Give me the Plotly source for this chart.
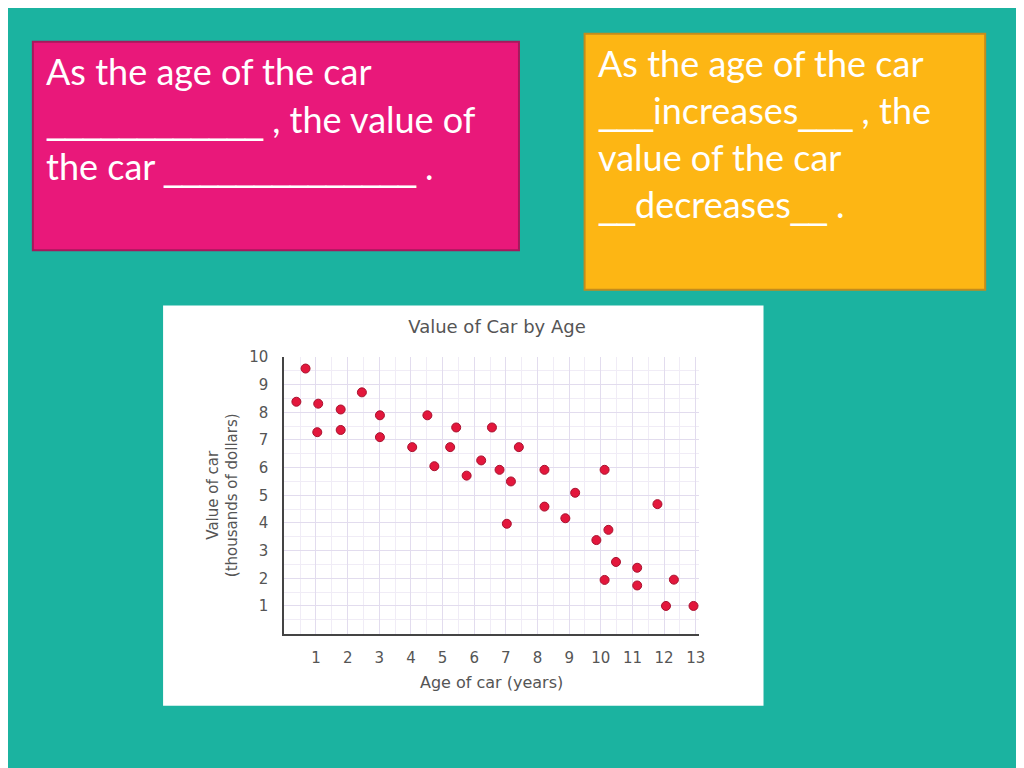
import plotly.graph_objects as go

# ---- data ----
age_years = [0.38, 0.67, 1.07, 1.04, 1.78, 1.78, 2.45, 3.02, 3.02, 4.04,
             4.52, 4.74, 5.43, 5.24, 5.76, 6.22, 6.56, 6.80, 7.16, 7.03,
             7.41, 8.22, 8.22, 8.88, 9.19, 10.12, 9.86, 10.24, 10.48, 10.12,
             11.15, 11.15, 11.79, 12.06, 12.31, 12.93]
value_thousands = [8.38, 9.58, 8.31, 7.28, 8.10, 7.36, 8.72, 7.89, 7.10, 6.74,
                   7.89, 6.05, 7.45, 6.74, 5.71, 6.26, 7.45, 5.92, 5.50, 3.97,
                   6.74, 5.92, 4.59, 4.17, 5.09, 5.92, 3.38, 3.75, 2.59, 1.94,
                   2.38, 1.74, 4.68, 1.00, 1.95, 1.00]
x_ticks = list(range(1, 14))
y_ticks = list(range(1, 11))

pink_lines = ["As the age of the car",
              "____________ , the value of",
              "the car ______________ ."]
orange_lines = ["As the age of the car",
                "___increases___ , the",
                "value of the car",
                "__decreases__ ."]

# the page body adds an 8px margin, so the figure is 1016x760 and placed at (8, 8)
OFF = 8
W, H = 1024 - OFF, 768 - OFF
TEAL = "#1bb3a0"
PINK = "#e9187a"
ORANGE = "#fdb614"


def px(x):
    return (x - OFF) / W


def py(y):
    return 1 - (y - OFF) / H


def wide_blanks(line):
    """Render the fill-in blanks (runs of underscores) with a wider underscore glyph."""
    out, run = "", ""
    for ch in line:
        if ch == "_":
            run += ch
        else:
            if run:
                out += '<span style="font-family:DejaVu Sans">' + run + "</span>"
                run = ""
            out += ch
    if run:
        out += '<span style="font-family:DejaVu Sans">' + run + "</span>"
    return out


fig = go.Figure()
fig.add_trace(go.Scatter(
    x=age_years, y=value_thousands, mode="markers",
    marker=dict(color="#e3173c", size=9, line=dict(color="#a8122f", width=1)),
    showlegend=False, hoverinfo="x+y"))

shapes = [
    dict(type="rect", xref="paper", yref="paper", layer="below",
         x0=px(164), x1=px(768), y0=py(705), y1=py(300),
         fillcolor="white", line=dict(width=0)),
    dict(type="rect", xref="paper", yref="paper", layer="below",
         x0=px(33), x1=px(522), y0=py(244), y1=py(33),
         fillcolor=PINK, line=dict(color="#a5195c", width=2)),
    dict(type="rect", xref="paper", yref="paper", layer="below",
         x0=px(588), x1=px(991), y0=py(284), y1=py(25),
         fillcolor=ORANGE, line=dict(color="#c38c1c", width=2)),
]

annotations = []
box_font = dict(family="Lato", size=36, color="white")
for i, t in enumerate(pink_lines):
    annotations.append(dict(text=wide_blanks(t), xref="paper", yref="paper",
                            x=px(44), y=py(63 + 48 * i), xanchor="left", yanchor="middle",
                            showarrow=False, font=box_font))
for i, t in enumerate(orange_lines):
    annotations.append(dict(text=wide_blanks(t), xref="paper", yref="paper",
                            x=px(599), y=py(55 + 47.3 * i), xanchor="left", yanchor="middle",
                            showarrow=False, font=box_font))

axis_font = dict(family="DejaVu Sans", size=15, color="#555555")

fig.update_layout(
    width=W, height=H,
    margin=dict(l=0, r=0, t=0, b=0),
    paper_bgcolor=TEAL, plot_bgcolor="white",
    shapes=shapes, annotations=annotations,
    title=dict(text="Value of Car by Age", x=px(497), y=py(327),
               xanchor="center", yanchor="middle",
               font=dict(family="DejaVu Sans", size=18, color="#555555")),
    xaxis=dict(domain=[px(286), px(703)], range=[0, 13.1],
               tickvals=x_ticks, ticktext=[str(v) for v in x_ticks],
               tickfont=axis_font, ticks="", ticklabelstandoff=9,
               showline=True, linecolor="#444444", linewidth=2,
               showgrid=True, gridcolor="#e2dcee", gridwidth=1, zeroline=False,
               minor=dict(dtick=0.5, tick0=0, showgrid=True, gridcolor="#f0ecf6"),
               title=dict(text="Age of car (years)", standoff=11,
                          font=dict(family="DejaVu Sans", size=16, color="#555555")),
               fixedrange=True),
    yaxis=dict(domain=[py(632), py(352)], range=[0, 10],
               tickvals=y_ticks, ticktext=[str(v) for v in y_ticks],
               tickfont=axis_font, ticks="", ticklabelstandoff=11,
               showline=True, linecolor="#444444", linewidth=2,
               showgrid=True, gridcolor="#e2dcee", gridwidth=1, zeroline=False,
               minor=dict(dtick=0.5, tick0=0, showgrid=True, gridcolor="#f0ecf6"),
               title=dict(text="Value of car<br>(thousands of dollars)", standoff=8,
                          font=dict(family="DejaVu Sans", size=15, color="#555555")),
               fixedrange=True),
)

fig.write_html("out.html")
